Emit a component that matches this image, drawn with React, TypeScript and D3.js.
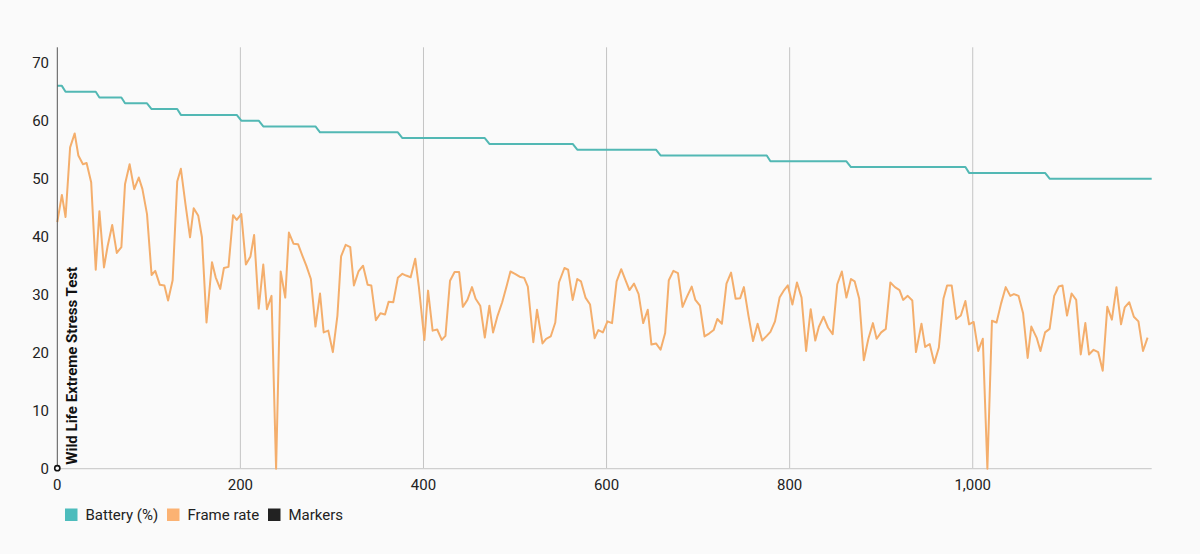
import * as d3 from "d3";

const SAMPLE_TIMES = [
  0, 5, 9, 14, 19, 23, 28, 32, 37, 42, 46, 51, 55, 60, 65, 70, 74, 79, 84, 89,
  93, 98, 103, 107, 112, 117, 121, 126, 131, 135, 140, 145, 149, 154, 158, 163, 169, 173, 178, 182,
  187, 192, 196, 201, 206, 211, 215, 220, 225, 229, 234, 239, 244, 249, 253, 258, 263, 268, 272, 277,
  282, 287, 291, 296, 301, 306, 310, 315, 320, 324, 329, 334, 339, 343, 348, 353, 358, 362, 367, 372,
  377, 381, 386, 391, 395, 401, 405, 410, 415, 420, 424, 429, 434, 439, 443, 448, 453, 457, 462, 467,
  472, 476, 481, 486, 491, 495, 500, 505, 510, 514, 520, 524, 530, 534, 539, 544, 548, 554, 558, 563,
  568, 572, 577, 582, 587, 591, 596, 601, 606, 611, 616, 621, 625, 630, 635, 640, 645, 649, 654, 659,
  664, 668, 673, 678, 683, 688, 693, 697, 702, 707, 712, 717, 721, 726, 731, 736, 741, 746, 750, 755,
  760, 765, 770, 775, 779, 784, 789, 794, 798, 803, 808, 813, 818, 823, 828, 832, 837, 842, 847, 852,
  857, 862, 867, 871, 876, 881, 886, 891, 895, 900, 905, 910, 915, 920, 924, 929, 934, 938, 944, 948,
  953, 958, 963, 968, 972, 977, 982, 987, 992, 996, 1001, 1006, 1011, 1016, 1021, 1026, 1031, 1036, 1041, 1045,
  1050, 1055, 1060, 1064, 1070, 1074, 1079, 1084, 1089, 1094, 1098, 1103, 1108, 1113, 1118, 1123, 1127, 1132, 1137, 1142,
  1147, 1152, 1157, 1162, 1166, 1171, 1176, 1181, 1186, 1191,
];

const FRAME_RATE = [
  42.5, 47.2, 43.4, 55.4, 57.8, 54.0, 52.5, 52.7, 49.4, 34.3,
  44.4, 34.7, 38.4, 42.0, 37.2, 38.2, 49.1, 52.5, 48.2, 50.2,
  48.2, 43.9, 33.4, 34.1, 31.7, 31.6, 29.0, 32.5, 49.5, 51.7,
  45.6, 39.9, 44.9, 43.6, 39.9, 25.2, 35.6, 33.0, 31.0, 34.6,
  34.8, 43.7, 42.9, 43.9, 35.2, 36.6, 40.3, 27.6, 35.2, 27.5,
  29.8, 0, 34.0, 29.5, 40.7, 38.8, 38.7, 36.6, 35.0, 32.7,
  24.5, 30.2, 23.5, 23.8, 20.1, 26.4, 36.6, 38.6, 38.2, 31.6,
  34.0, 35.0, 31.7, 31.6, 25.6, 26.8, 26.6, 28.8, 28.7, 32.9,
  33.6, 33.3, 33.0, 36.2, 31.3, 22.2, 30.7, 23.8, 24.0, 22.2,
  22.9, 32.4, 33.9, 33.9, 27.9, 29.1, 31.3, 29.3, 28.1, 22.6,
  28.1, 23.5, 26.4, 28.7, 31.6, 34.0, 33.6, 33.1, 32.9, 31.4,
  21.8, 27.4, 21.6, 22.4, 22.8, 25.2, 32.1, 34.6, 34.3, 29.1,
  32.7, 32.3, 29.5, 28.3, 22.5, 23.9, 23.5, 25.4, 25.1, 32.3,
  34.4, 32.4, 30.8, 31.9, 30.1, 25.1, 27.4, 21.4, 21.6, 20.5,
  23.4, 32.5, 34.1, 33.7, 27.9, 29.7, 31.4, 29.1, 28.1, 22.8,
  23.3, 23.9, 25.8, 25.0, 31.9, 33.8, 29.3, 29.4, 31.3, 26.4,
  22.0, 25.0, 22.1, 22.9, 23.6, 25.4, 29.5, 30.8, 31.6, 28.3,
  32.1, 29.5, 20.3, 27.5, 22.1, 24.5, 26.2, 24.3, 23.2, 31.8,
  34.0, 29.5, 32.7, 32.3, 29.3, 18.7, 22.4, 25.1, 22.4, 23.5,
  24.1, 32.1, 31.3, 30.8, 29.1, 29.8, 29.0, 20.1, 25.0, 21.0,
  21.5, 18.2, 20.9, 29.3, 31.6, 31.6, 25.8, 26.4, 28.9, 24.9,
  25.3, 20.3, 22.4, 0, 25.5, 25.2, 28.5, 31.3, 29.8, 30.1,
  29.8, 26.8, 19.1, 24.5, 22.5, 20.3, 23.5, 24.1, 29.8, 31.4,
  31.6, 26.4, 30.2, 29.1, 19.7, 25.1, 19.7, 20.5, 20.1, 16.9,
  27.9, 25.7, 31.3, 24.9, 27.8, 28.7, 26.2, 25.4, 20.3, 22.6,
];

// battery level and the time of the first sample showing it
const BATTERY_LEVELS = [66, 65, 64, 63, 62, 61, 60, 59, 58, 57, 56, 55, 54, 53, 52, 51, 50];
const BATTERY_STEP_TIMES = [0, 9, 46, 74, 103, 135, 201, 225, 287, 377, 472, 568, 659, 779, 867, 996, 1084];
const LAST_BATTERY_TIME = 1195.5;

const MARKER_TIMES = [0];
const MARKER_LABELS = ["Wild Life Extreme Stress Test"];

const X_TICKS = [0, 200, 400, 600, 800, 1000];
const Y_TICKS = [0, 10, 20, 30, 40, 50, 60, 70];

const LEGEND = [
  { label: "Battery (%)", color: "#4dbcbc" },
  { label: "Frame rate", color: "#fbb273" },
  { label: "Markers", color: "#222222" },
];

const W = 1200;
const H = 554;
const FONT = "Roboto, 'Noto Sans', sans-serif";

export default function App() {
  const x = d3.scaleLinear().domain([0, LAST_BATTERY_TIME]).range([57.3, 1151.7]);
  const y = d3.scaleLinear().domain([0, 72.65]).range([468.7, 47.3]);

  const batteryTimes = [...SAMPLE_TIMES, LAST_BATTERY_TIME];
  const battery = batteryTimes.map((t) => {
    const i = d3.bisectRight(BATTERY_STEP_TIMES, t) - 1;
    return [t, BATTERY_LEVELS[i]] as [number, number];
  });
  const fps = SAMPLE_TIMES.map((t, i) => [t, FRAME_RATE[i]] as [number, number]);

  const line = d3
    .line<[number, number]>()
    .x((d) => x(d[0]))
    .y((d) => y(d[1]));

  const [y0, y1] = y.range();

  return (
    <svg
      width={W}
      height={H}
      style={{ position: "absolute", left: 0, top: 0, display: "block" }}
      fontFamily={FONT}
    >
      <rect width={W} height={H} fill="#fafafa" />

      {/* vertical grid */}
      {X_TICKS.filter((t) => t > 0).map((t) => (
        <line key={t} x1={x(t)} x2={x(t)} y1={y1} y2={y0} stroke="#c4c4c4" strokeWidth={1} />
      ))}
      <line x1={x.range()[0]} x2={x.range()[1]} y1={y0} y2={y0} stroke="#cfcfcf" strokeWidth={1.2} />

      {/* y tick labels */}
      {Y_TICKS.map((t) => (
        <text key={t} x={49} y={y(t)} dy="0.36em" textAnchor="end" fontSize={15} fill="#222">
          {t}
        </text>
      ))}
      {/* x tick labels */}
      {X_TICKS.map((t) => (
        <text key={t} x={x(t)} y={489.5} textAnchor="middle" fontSize={15} fill="#222">
          {d3.format(",")(t)}
        </text>
      ))}

      <path d={line(battery) ?? ""} fill="none" stroke="#52b8b4" strokeWidth={2} strokeLinejoin="round" />
      <path d={line(fps) ?? ""} fill="none" stroke="#f4ae6c" strokeWidth={2} strokeLinejoin="round" />

      {/* markers */}
      {MARKER_TIMES.map((t, i) => (
        <g key={t}>
          <line x1={x(t)} x2={x(t)} y1={y1} y2={y0} stroke="#555" strokeWidth={1} />
          <circle cx={x(t)} cy={y0 - 0.5} r={2.6} fill="#fafafa" stroke="#111" strokeWidth={1.6} />
          <text
            transform={`translate(${x(t) + 20},${y0 - 4}) rotate(-90)`}
            fontSize={15}
            fontWeight="bold"
            fill="#111"
          >
            {MARKER_LABELS[i]}
          </text>
        </g>
      ))}

      {/* legend */}
      {LEGEND.map((d, i) => {
        const lx = [65, 167, 268][i];
        return (
          <g key={d.label}>
            <rect x={lx} y={508.5} width={12.5} height={12.5} fill={d.color} />
            <text x={lx + 20.5} y={515} dy="0.36em" fontSize={15} fill="#222">
              {d.label}
            </text>
          </g>
        );
      })}
    </svg>
  );
}
